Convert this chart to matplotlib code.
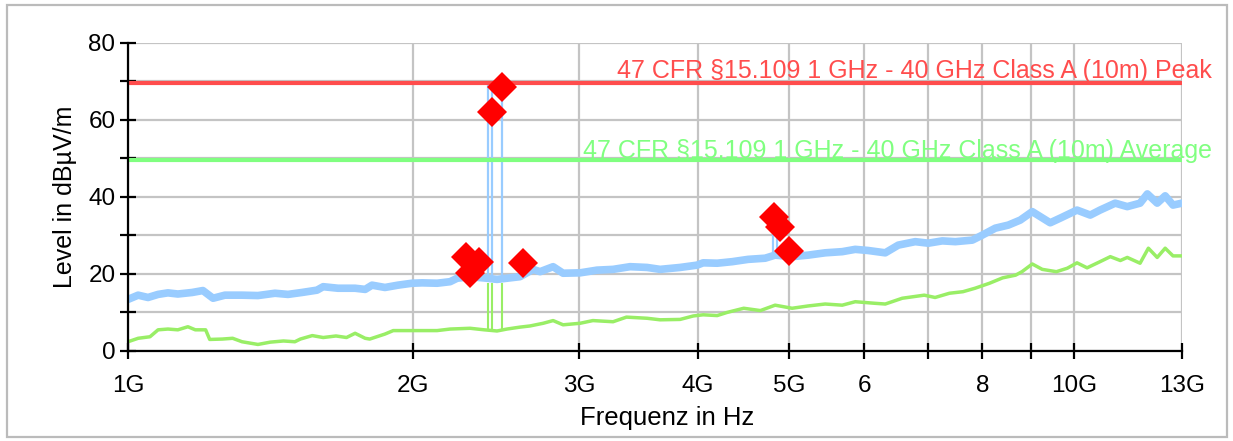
import matplotlib
matplotlib.use("Agg")
import matplotlib.pyplot as plt
from matplotlib.patches import Rectangle
from matplotlib.ticker import FixedLocator, NullFormatter

plt.rcParams["font.family"] = ["Liberation Sans", "DejaVu Sans"]

# peak trace (GHz, dBuV/m)
peak_freq = [1.000, 1.025, 1.050, 1.076, 1.102, 1.129, 1.169, 1.200, 1.230, 1.266,
             1.320, 1.372, 1.430, 1.476, 1.527, 1.584, 1.608, 1.667, 1.738, 1.781,
             1.811, 1.869, 1.929, 1.996, 2.046, 2.122, 2.190, 2.228, 2.299, 2.395,
             2.455, 2.515, 2.596, 2.680, 2.726, 2.814, 2.883, 3.005, 3.131, 3.256,
             3.394, 3.537, 3.651, 3.833, 3.995, 4.054, 4.195, 4.351, 4.523, 4.714,
             4.830, 5.034, 5.235, 5.456, 5.687, 5.870, 6.059, 6.315, 6.518, 6.793,
             7.012, 7.255, 7.489, 7.805, 7.997, 8.254, 8.519, 8.771, 9.031, 9.209,
             9.434, 9.665, 10.07, 10.40, 10.65, 11.05, 11.38, 11.74, 11.95, 12.24,
             12.48, 12.72, 13.00]
peak_level = [13.4, 14.5, 13.9, 14.7, 15.1, 14.8, 15.2, 15.7, 13.7, 14.5,
              14.5, 14.4, 15.0, 14.7, 15.2, 15.8, 16.7, 16.3, 16.3, 16.0,
              17.1, 16.5, 17.1, 17.6, 17.7, 17.6, 18.0, 18.9, 19.3, 18.9,
              18.6, 18.9, 19.3, 21.2, 20.6, 21.9, 20.2, 20.3, 21.0, 21.2,
              21.9, 21.7, 21.2, 21.7, 22.3, 22.9, 22.8, 23.2, 23.8, 24.1,
              24.9, 24.5, 24.9, 25.5, 25.8, 26.4, 26.1, 25.5, 27.5, 28.4,
              28.0, 28.6, 28.4, 28.8, 30.1, 31.9, 32.7, 34.0, 36.2, 34.9,
              33.3, 34.5, 36.6, 35.3, 36.6, 38.4, 37.5, 38.4, 40.8, 38.4,
              40.3, 37.9, 38.4]

# average trace
avg_freq = [1.000, 1.025, 1.055, 1.076, 1.102, 1.129, 1.157, 1.178, 1.208, 1.220,
            1.258, 1.290, 1.320, 1.372, 1.414, 1.460, 1.501, 1.521, 1.566, 1.608,
            1.659, 1.702, 1.738, 1.781, 1.801, 1.869, 1.907, 1.943, 1.986, 2.026,
            2.046, 2.122, 2.190, 2.299, 2.380, 2.455, 2.515, 2.596, 2.660, 2.747,
            2.814, 2.883, 3.005, 3.100, 3.256, 3.364, 3.537, 3.651, 3.833, 3.958,
            4.054, 4.195, 4.295, 4.475, 4.660, 4.830, 5.034, 5.235, 5.456, 5.687,
            5.870, 6.149, 6.315, 6.581, 6.943, 7.129, 7.383, 7.629, 7.857, 8.139,
            8.403, 8.672, 8.808, 9.031, 9.254, 9.577, 9.835, 10.07, 10.32, 10.65,
            10.92, 11.19, 11.38, 11.74, 11.98, 12.24, 12.48, 12.72, 13.00]
avg_level = [2.4, 3.3, 3.7, 5.5, 5.7, 5.5, 6.3, 5.5, 5.5, 3.0,
             3.1, 3.3, 2.4, 1.7, 2.3, 2.6, 2.4, 3.1, 4.0, 3.5,
             3.9, 3.5, 4.6, 3.3, 3.1, 4.4, 5.3, 5.3, 5.3, 5.3,
             5.3, 5.3, 5.7, 5.9, 5.5, 5.2, 5.7, 6.2, 6.5, 7.2,
             7.9, 6.8, 7.2, 7.9, 7.6, 8.8, 8.5, 8.1, 8.2, 9.1,
             9.4, 9.2, 10.0, 11.1, 10.5, 11.9, 11.1, 11.7, 12.2, 11.9,
             12.8, 12.4, 12.2, 13.7, 14.5, 13.9, 15.0, 15.4, 16.3, 17.6,
             19.0, 19.7, 20.6, 22.6, 21.2, 20.6, 21.5, 22.9, 21.6, 23.2,
             24.5, 23.5, 24.3, 22.8, 26.7, 24.3, 26.7, 24.7, 24.7]

# narrow spikes
peak_spike_freq = [2.400, 2.424, 2.483, 4.81, 4.85]
peak_spike_base = [19.0, 19.0, 19.0, 25.0, 25.0]
peak_spike_top = [70.0, 69.5, 68.5, 34.0, 33.0]
avg_spike_freq = [2.400, 2.424, 2.483]
avg_spike_base = [5.5, 5.5, 5.5]
avg_spike_top = [17.6, 17.6, 17.6]

# final measurement points
mark_freq = [2.275, 2.299, 2.350, 2.424, 2.483, 2.613, 4.82, 4.89, 4.99]
mark_level = [24.4, 20.2, 23.1, 62.0, 68.5, 22.9, 34.7, 32.3, 26.0]

limit_peak = 69.5
limit_avg = 49.5
limit_peak_label = "47 CFR §15.109 1 GHz - 40 GHz Class A (10m) Peak"
limit_avg_label = "47 CFR §15.109 1 GHz - 40 GHz Class A (10m) Average"

xticks = [1, 2, 3, 4, 5, 6, 7, 8, 9, 10, 13]
xticklabels = ["1G", "2G", "3G", "4G", "5G", "6", "", "8", "", "10G", "13G"]

fig = plt.figure(figsize=(12.33, 4.41), dpi=100)
fig.patches.append(Rectangle((0.006, 0.008), 0.989, 0.98, transform=fig.transFigure,
                             fill=False, edgecolor="#BBBBBB", linewidth=1.6))
ax = fig.add_axes([0.1038, 0.2041, 0.8548, 0.6984])

ax.plot(avg_freq, avg_level, color="#99EE66", linewidth=2.5, zorder=3)
ax.vlines(avg_spike_freq, avg_spike_base, avg_spike_top, color="#99EE66", linewidth=1.5, zorder=3)
ax.plot(peak_freq, peak_level, color="#99CCFF", linewidth=5.5, zorder=4)
ax.vlines(peak_spike_freq, peak_spike_base, peak_spike_top, color="#99CCFF", linewidth=1.6, zorder=4)

ax.axhline(limit_peak, color="#FF4D4D", linewidth=3, zorder=5)
ax.axhline(limit_avg, color="#80FF80", linewidth=3, zorder=5)
ax.text(1.0285, limit_peak + 1.3, limit_peak_label, transform=ax.get_yaxis_transform(),
        ha="right", va="baseline", color="#FF4D4D", fontsize=18, zorder=6)
ax.text(1.0285, limit_avg + 0.5, limit_avg_label, transform=ax.get_yaxis_transform(),
        ha="right", va="baseline", color="#80FF80", fontsize=18, zorder=6)

ax.plot(mark_freq, mark_level, linestyle="none", marker="D", markersize=15.5,
        color="#FF0000", markeredgewidth=0, zorder=7)

ax.set_xscale("log")
ax.set_xlim(1, 13)
ax.set_ylim(0, 80)
ax.xaxis.set_major_locator(FixedLocator(xticks))
ax.xaxis.set_minor_locator(FixedLocator([]))
ax.set_xticklabels(xticklabels)
ax.xaxis.set_minor_formatter(NullFormatter())
ax.set_yticks([0, 20, 40, 60, 80])
ax.set_yticks([10, 30, 50, 70], minor=True)

ax.grid(True, which="both", color="#C4C4C4", linewidth=1.6, zorder=0)
ax.set_axisbelow(True)
for s in ["top", "right"]:
    ax.spines[s].set_visible(False)
for s in ["left", "bottom"]:
    ax.spines[s].set_linewidth(1.6)
    ax.spines[s].set_zorder(8)

ax.tick_params(axis="both", which="both", direction="inout", length=12, width=1.6,
               labelsize=17.5)
ax.tick_params(axis="x", pad=11)
ax.tick_params(axis="y", pad=3)

ax.set_xlabel("Frequenz in Hz", fontsize=18.5)
ax.xaxis.set_label_coords(0.512, -0.18)
ax.set_ylabel("Level in dBµV/m", fontsize=18, labelpad=8)

plt.savefig("out.png", dpi=100)
plt.close()
